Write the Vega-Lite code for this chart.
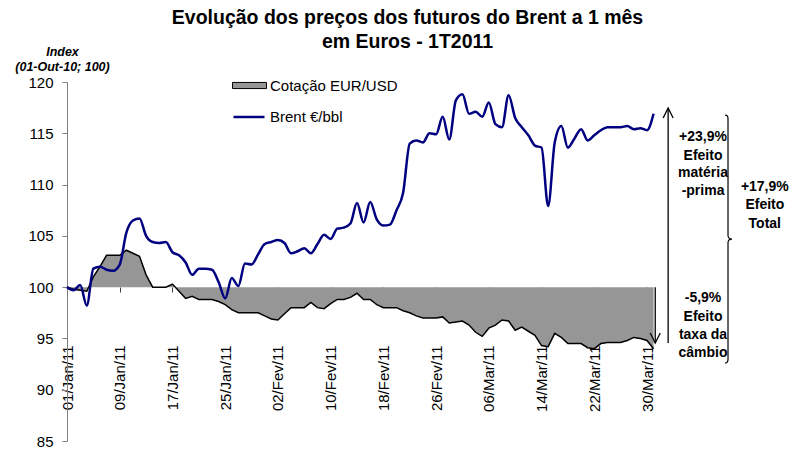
{
  "$schema": "https://vega.github.io/schema/vega-lite/v6.json",
  "width": 725,
  "height": 359,
  "autosize": "none",
  "padding": {"left": 67, "top": 82, "right": 6, "bottom": 9},
  "background": "white",
  "config": {"view": {"stroke": null}, "font": "Liberation Sans"},
  "title": {
    "text": ["Evolução dos preços dos futuros do Brent a 1 mês", "em Euros - 1T2011"],
    "fontSize": 19.5,
    "font": "Liberation Sans",
    "fontWeight": "bold",
    "anchor": "middle",
    "frame": "group",
    "dx": -22,
    "offset": -7,
    "lineHeight": 24,
    "color": "black"
  },
  "datasets": {
    "series": [
      {"date": "2011-01-01", "brent": 100.0, "eur": 100.0},
      {"date": "2011-01-02", "brent": 99.7, "eur": 99.8},
      {"date": "2011-01-03", "brent": 100.2, "eur": 99.7},
      {"date": "2011-01-04", "brent": 98.2, "eur": 99.6},
      {"date": "2011-01-05", "brent": 101.8, "eur": 101.0},
      {"date": "2011-01-06", "brent": 102.0, "eur": 102.0},
      {"date": "2011-01-07", "brent": 101.7, "eur": 103.1},
      {"date": "2011-01-08", "brent": 101.6, "eur": 103.1},
      {"date": "2011-01-09", "brent": 102.2, "eur": 103.1},
      {"date": "2011-01-10", "brent": 105.3, "eur": 103.6},
      {"date": "2011-01-11", "brent": 106.5, "eur": 103.3},
      {"date": "2011-01-12", "brent": 106.7, "eur": 103.0},
      {"date": "2011-01-13", "brent": 105.0, "eur": 101.2},
      {"date": "2011-01-14", "brent": 104.4, "eur": 100.0},
      {"date": "2011-01-15", "brent": 104.3, "eur": 100.0},
      {"date": "2011-01-16", "brent": 104.4, "eur": 100.0},
      {"date": "2011-01-17", "brent": 103.4, "eur": 100.3},
      {"date": "2011-01-18", "brent": 103.1, "eur": 99.6},
      {"date": "2011-01-19", "brent": 102.4, "eur": 98.9},
      {"date": "2011-01-20", "brent": 101.2, "eur": 99.1},
      {"date": "2011-01-21", "brent": 101.8, "eur": 98.8},
      {"date": "2011-01-22", "brent": 101.8, "eur": 98.8},
      {"date": "2011-01-23", "brent": 101.7, "eur": 98.8},
      {"date": "2011-01-24", "brent": 100.5, "eur": 98.6},
      {"date": "2011-01-25", "brent": 98.9, "eur": 98.3},
      {"date": "2011-01-26", "brent": 100.9, "eur": 97.8},
      {"date": "2011-01-27", "brent": 100.1, "eur": 97.5},
      {"date": "2011-01-28", "brent": 102.3, "eur": 97.5},
      {"date": "2011-01-29", "brent": 102.2, "eur": 97.5},
      {"date": "2011-01-30", "brent": 103.2, "eur": 97.5},
      {"date": "2011-01-31", "brent": 104.2, "eur": 97.2},
      {"date": "2011-02-01", "brent": 104.4, "eur": 96.9},
      {"date": "2011-02-02", "brent": 104.6, "eur": 96.8},
      {"date": "2011-02-03", "brent": 104.3, "eur": 97.4},
      {"date": "2011-02-04", "brent": 103.3, "eur": 98.0},
      {"date": "2011-02-05", "brent": 103.5, "eur": 98.0},
      {"date": "2011-02-06", "brent": 103.8, "eur": 98.0},
      {"date": "2011-02-07", "brent": 103.3, "eur": 98.5},
      {"date": "2011-02-08", "brent": 104.2, "eur": 98.0},
      {"date": "2011-02-09", "brent": 105.1, "eur": 97.9},
      {"date": "2011-02-10", "brent": 104.7, "eur": 98.4},
      {"date": "2011-02-11", "brent": 105.7, "eur": 98.8},
      {"date": "2011-02-12", "brent": 105.8, "eur": 98.8},
      {"date": "2011-02-13", "brent": 106.2, "eur": 99.0},
      {"date": "2011-02-14", "brent": 108.2, "eur": 99.4},
      {"date": "2011-02-15", "brent": 106.3, "eur": 98.8},
      {"date": "2011-02-16", "brent": 108.3, "eur": 98.8},
      {"date": "2011-02-17", "brent": 106.6, "eur": 98.3},
      {"date": "2011-02-18", "brent": 106.0, "eur": 98.0},
      {"date": "2011-02-19", "brent": 106.1, "eur": 98.0},
      {"date": "2011-02-20", "brent": 107.5, "eur": 98.0},
      {"date": "2011-02-21", "brent": 109.2, "eur": 97.7},
      {"date": "2011-02-22", "brent": 114.0, "eur": 97.5},
      {"date": "2011-02-23", "brent": 114.3, "eur": 97.2},
      {"date": "2011-02-24", "brent": 114.1, "eur": 97.0},
      {"date": "2011-02-25", "brent": 115.0, "eur": 97.0},
      {"date": "2011-02-26", "brent": 114.9, "eur": 97.0},
      {"date": "2011-02-27", "brent": 116.6, "eur": 97.1},
      {"date": "2011-02-28", "brent": 114.4, "eur": 96.5},
      {"date": "2011-03-01", "brent": 118.2, "eur": 96.6},
      {"date": "2011-03-02", "brent": 118.8, "eur": 96.7},
      {"date": "2011-03-03", "brent": 116.9, "eur": 96.3},
      {"date": "2011-03-04", "brent": 117.1, "eur": 95.6},
      {"date": "2011-03-05", "brent": 116.6, "eur": 95.2},
      {"date": "2011-03-06", "brent": 118.0, "eur": 96.0},
      {"date": "2011-03-07", "brent": 115.9, "eur": 96.3},
      {"date": "2011-03-08", "brent": 115.6, "eur": 96.8},
      {"date": "2011-03-09", "brent": 118.7, "eur": 96.7},
      {"date": "2011-03-10", "brent": 116.5, "eur": 95.8},
      {"date": "2011-03-11", "brent": 115.6, "eur": 96.1},
      {"date": "2011-03-12", "brent": 114.8, "eur": 95.7},
      {"date": "2011-03-13", "brent": 113.8, "eur": 95.3},
      {"date": "2011-03-14", "brent": 113.6, "eur": 94.3},
      {"date": "2011-03-15", "brent": 107.9, "eur": 94.2},
      {"date": "2011-03-16", "brent": 114.1, "eur": 95.5},
      {"date": "2011-03-17", "brent": 115.7, "eur": 95.1},
      {"date": "2011-03-18", "brent": 113.6, "eur": 94.5},
      {"date": "2011-03-19", "brent": 114.5, "eur": 94.5},
      {"date": "2011-03-20", "brent": 115.4, "eur": 94.5},
      {"date": "2011-03-21", "brent": 114.3, "eur": 94.1},
      {"date": "2011-03-22", "brent": 114.8, "eur": 94.0},
      {"date": "2011-03-23", "brent": 115.3, "eur": 94.5},
      {"date": "2011-03-24", "brent": 115.6, "eur": 94.6},
      {"date": "2011-03-25", "brent": 115.6, "eur": 94.6},
      {"date": "2011-03-26", "brent": 115.6, "eur": 94.6},
      {"date": "2011-03-27", "brent": 115.7, "eur": 94.8},
      {"date": "2011-03-28", "brent": 115.4, "eur": 95.1},
      {"date": "2011-03-29", "brent": 115.5, "eur": 95.0},
      {"date": "2011-03-30", "brent": 115.3, "eur": 94.8},
      {"date": "2011-03-31", "brent": 116.9, "eur": 94.0}
    ],
    "notes": [
      {"t": "2011-04-07T12:00:00Z", "v": 114.6, "label": "+23,9%"},
      {"t": "2011-04-07T12:00:00Z", "v": 112.8, "label": "Efeito"},
      {"t": "2011-04-07T12:00:00Z", "v": 111.1, "label": "matéria"},
      {"t": "2011-04-07T12:00:00Z", "v": 109.4, "label": "-prima"},
      {"t": "2011-04-07T12:00:00Z", "v": 98.9, "label": "-5,9%"},
      {"t": "2011-04-07T12:00:00Z", "v": 97.1, "label": "Efeito"},
      {"t": "2011-04-07T12:00:00Z", "v": 95.3, "label": "taxa da"},
      {"t": "2011-04-07T12:00:00Z", "v": 93.6, "label": "câmbio"},
      {"t": "2011-04-16T21:00:00Z", "v": 109.8, "label": "+17,9%"},
      {"t": "2011-04-16T21:00:00Z", "v": 108.0, "label": "Efeito"},
      {"t": "2011-04-16T21:00:00Z", "v": 106.2, "label": "Total"}
    ],
    "arrows": [
      {"t": "2011-04-02T05:00:00Z", "v1": 94.55, "v2": 117.46, "tip": 117.46, "dir": "up"},
      {"t": "2011-03-31T06:00:00Z", "v1": 100.0, "v2": 94.55, "tip": 94.55, "dir": "down"}
    ],
    "braces": [
      {"t": "2011-04-11T07:00:00Z", "v": 104.69}
    ]
  },
  "layer": [
    {
      "data": {"name": "series"},
      "mark": {"type": "area", "interpolate": "linear", "opacity": 1, "fillOpacity": 1},
      "encoding": {
        "x": {
          "field": "date", "type": "temporal",
          "scale": {"type": "utc", "domain": [{"year": 2011, "month": 1, "date": 1, "utc": true}, {"year": 2011, "month": 4, "date": 21, "utc": true}]},
          "axis": {
            "values": [
              {"year": 2011, "month": 1, "date": 1, "utc": true},
              {"year": 2011, "month": 1, "date": 9, "utc": true},
              {"year": 2011, "month": 1, "date": 17, "utc": true},
              {"year": 2011, "month": 1, "date": 25, "utc": true},
              {"year": 2011, "month": 2, "date": 2, "utc": true},
              {"year": 2011, "month": 2, "date": 10, "utc": true},
              {"year": 2011, "month": 2, "date": 18, "utc": true},
              {"year": 2011, "month": 2, "date": 26, "utc": true},
              {"year": 2011, "month": 3, "date": 6, "utc": true},
              {"year": 2011, "month": 3, "date": 14, "utc": true},
              {"year": 2011, "month": 3, "date": 22, "utc": true},
              {"year": 2011, "month": 3, "date": 30, "utc": true}
            ],
            "labelExpr": "utcFormat(datum.value, '%d') + '/' + ['Jan','Fev','Mar','Abr'][utcmonth(datum.value)] + '/11'",
            "labelAngle": -90,
            "labelFontSize": 15,
            "labelColor": "black",
            "labelFont": "Liberation Sans",
            "tickColor": "#404040",
            "tickSize": 5,
            "tickWidth": 1,
            "domain": false,
            "grid": false,
            "offset": -154,
            "labelPadding": 53,
            "title": null,
            "labelOverlap": false,
            "labelBound": false,
            "labelFlush": false
          }
        },
        "y": {
          "field": "eur", "type": "quantitative",
          "scale": {"domain": [85, 120], "nice": false, "zero": false},
          "axis": {
            "values": [85, 90, 95, 100, 105, 110, 115, 120],
            "title": ["Index", "(01-Out-10; 100)"],
            "titleAngle": 0,
            "titleFontStyle": "italic",
            "titleFontWeight": "bold",
            "titleFontSize": 12.5,
            "titleFont": "Liberation Sans",
            "titleColor": "black",
            "titleX": -5,
            "titleY": -37,
            "titleAlign": "center",
            "titleBaseline": "top",
            "titleLineHeight": 15,
            "labelFontSize": 15,
            "labelFont": "Liberation Sans",
            "labelColor": "black",
            "tickColor": "#808080",
            "domainColor": "#808080",
            "tickSize": 5,
            "labelPadding": 9,
            "grid": false
          }
        },
        "y2": {"datum": 100},
        "fill": {
          "datum": "Cotação EUR/USD",
          "scale": {"range": ["#969696"]},
          "legend": {
            "orient": "none", "legendX": 165, "legendY": -14, "title": null, "padding": 0,
            "symbolType": "M-1,-0.18L1,-0.18L1,0.18L-1,0.18Z", "symbolSize": 1156,
            "symbolStrokeColor": "black", "symbolStrokeWidth": 1, "symbolOpacity": 1,
            "labelFontSize": 15, "labelColor": "black", "labelFont": "Liberation Sans", "labelOffset": 3
          }
        }
      }
    },
    {
      "data": {"name": "series"},
      "mark": {"type": "line", "interpolate": "linear", "color": "black", "strokeWidth": 1.5},
      "encoding": {
        "x": {"field": "date", "type": "temporal", "scale": {"type": "utc"}},
        "y": {"field": "eur", "type": "quantitative"}
      }
    },
    {
      "mark": {"type": "rule", "color": "#404040", "strokeWidth": 1.5},
      "encoding": {
        "x": {"datum": {"year": 2011, "month": 1, "date": 1, "utc": true}, "type": "temporal"},
        "x2": {"datum": {"year": 2011, "month": 3, "date": 31, "utc": true}},
        "y": {"datum": 100, "type": "quantitative"}
      }
    },
    {
      "data": {"name": "series"},
      "mark": {"type": "line", "interpolate": "monotone", "strokeWidth": 2.5},
      "encoding": {
        "x": {"field": "date", "type": "temporal", "scale": {"type": "utc"}},
        "y": {"field": "brent", "type": "quantitative"},
        "stroke": {
          "datum": "Brent €/bbl",
          "scale": {"range": ["#000080"]},
          "legend": {
            "orient": "none", "legendX": 165, "legendY": 18, "title": null, "padding": 0,
            "symbolType": "stroke", "symbolSize": 961, "symbolStrokeWidth": 2.5,
            "labelFontSize": 15, "labelColor": "black", "labelFont": "Liberation Sans", "labelOffset": 4
          }
        }
      }
    },
    {
      "data": {"name": "notes"},
      "mark": {"type": "text", "fontWeight": "bold", "fontSize": 14, "font": "Liberation Sans", "align": "center", "baseline": "middle", "color": "black"},
      "encoding": {
        "x": {"field": "t", "type": "temporal", "scale": {"type": "utc"}},
        "y": {"field": "v", "type": "quantitative"},
        "text": {"field": "label"}
      }
    },
    {
      "data": {"name": "arrows"},
      "mark": {"type": "rule", "color": "black", "strokeWidth": 1.3},
      "encoding": {
        "x": {"field": "t", "type": "temporal", "scale": {"type": "utc"}},
        "y": {"field": "v1", "type": "quantitative"},
        "y2": {"field": "v2"}
      }
    },
    {
      "data": {"name": "arrows"},
      "mark": {"type": "point", "filled": false, "color": "black", "strokeWidth": 1.3, "size": 400, "opacity": 1},
      "encoding": {
        "x": {"field": "t", "type": "temporal", "scale": {"type": "utc"}},
        "y": {"field": "tip", "type": "quantitative"},
        "shape": {
          "field": "dir", "type": "nominal",
          "scale": {"domain": ["up", "down"], "range": ["M-0.5,1L0,0L0.5,1", "M-0.5,-1L0,0L0.5,-1"]},
          "legend": null
        }
      }
    },
    {
      "data": {"name": "braces"},
      "mark": {
        "type": "point", "filled": false, "color": "black", "strokeWidth": 1.2, "opacity": 1,
        "size": 61504,
        "shape": "M-0.024,-1Q0,-1 0,-0.97L0,-0.03Q0,0 0.032,0Q0,0 0,0.03L0,0.97Q0,1 -0.024,1"
      },
      "encoding": {
        "x": {"field": "t", "type": "temporal", "scale": {"type": "utc"}},
        "y": {"field": "v", "type": "quantitative"}
      }
    }
  ]
}
